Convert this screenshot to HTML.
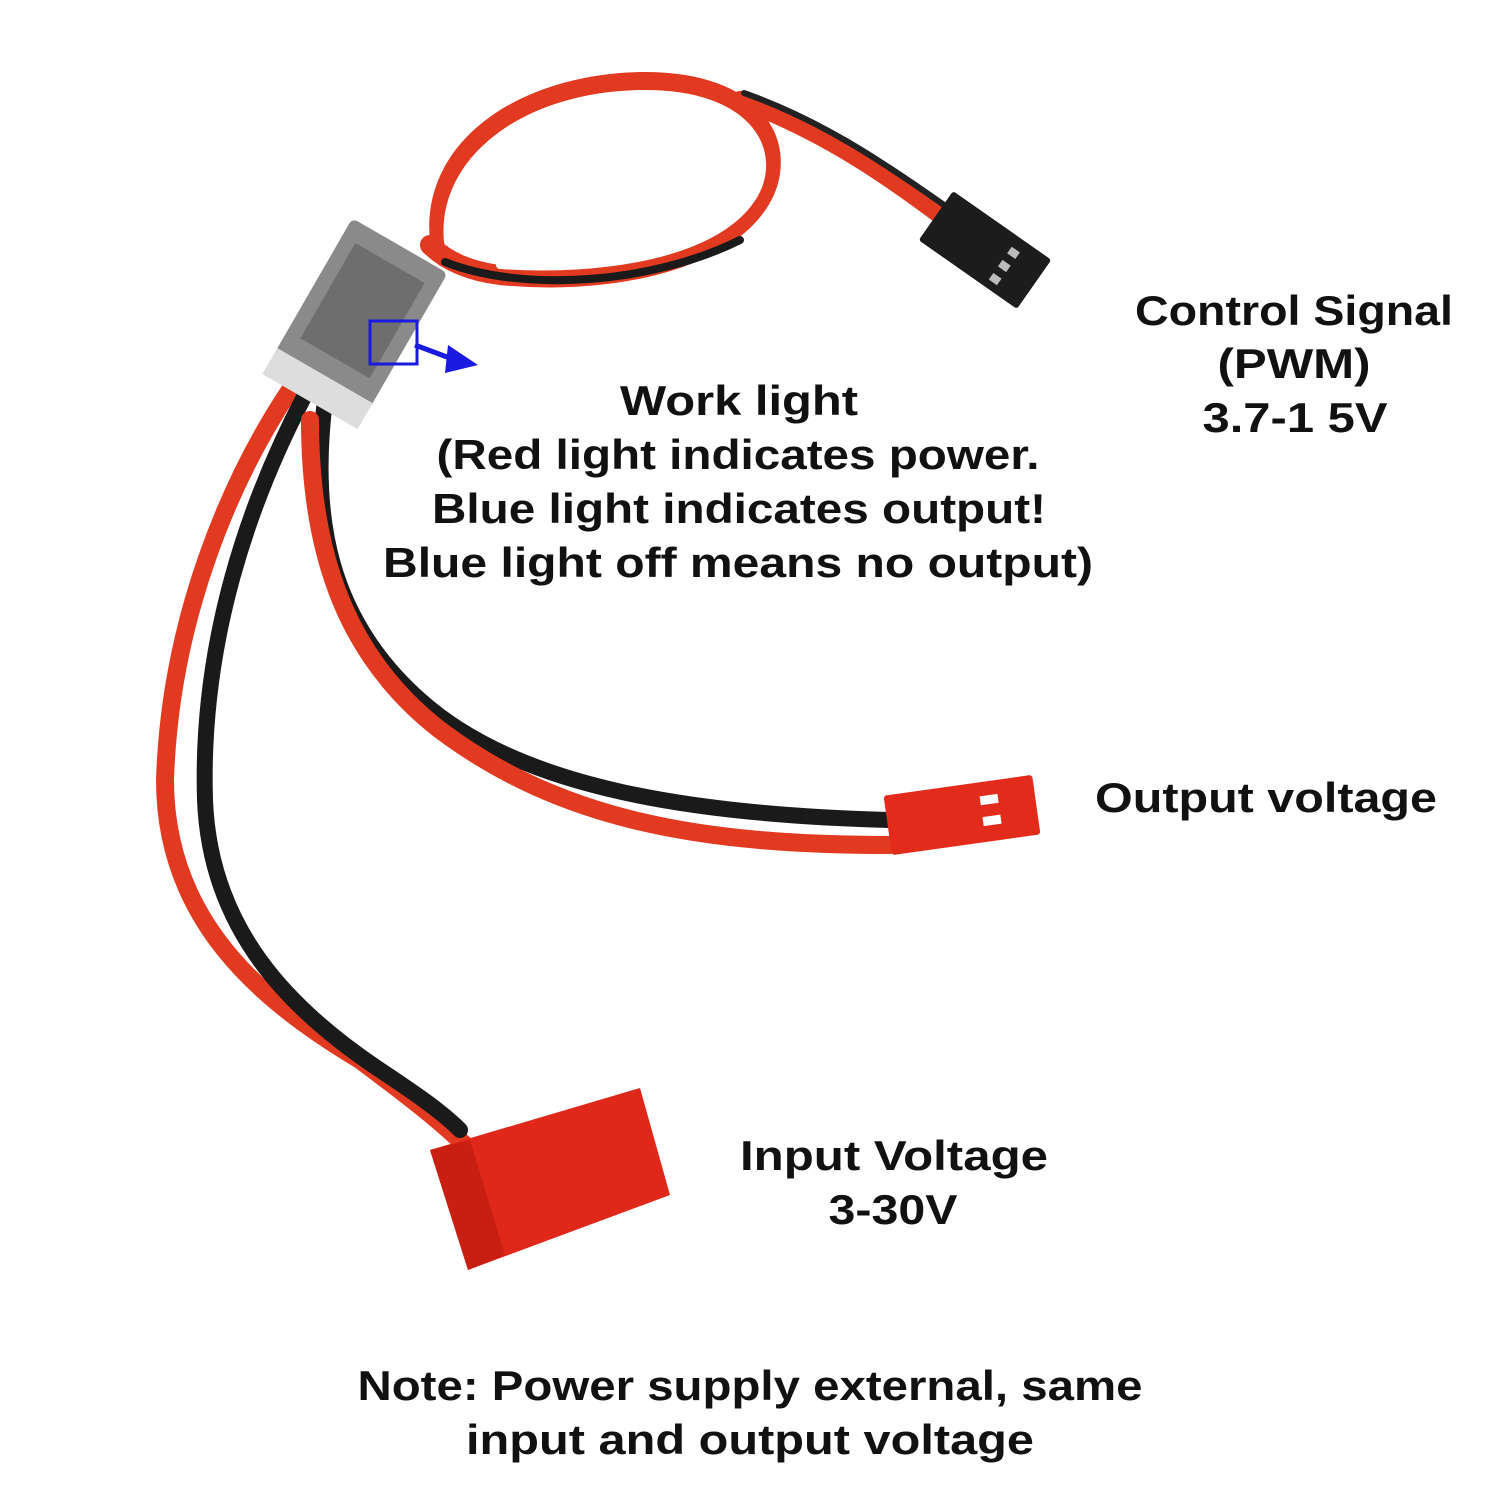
<html><head><style>
body{margin:0;background:#fff;}
svg{display:block}
text{font-family:"Liberation Sans",sans-serif;font-weight:bold;font-size:42px;fill:#111;}
</style></head><body>
<svg width="1500" height="1500" viewBox="0 0 1500 1500">
<g fill="none" stroke-linecap="round">
<path d="M290,390 C230,480 170,620 165,780 C165,920 260,1000 360,1060 C400,1090 440,1120 470,1150" stroke="#e23a20" stroke-width="18"/>
<path d="M305,395 C250,500 200,640 205,800 C210,930 290,1010 380,1070 C410,1090 440,1110 460,1130" stroke="#1a1a1a" stroke-width="16"/>
<path d="M325,400 C310,520 330,620 420,700 C520,790 700,815 890,820" stroke="#1a1a1a" stroke-width="16"/>
<path d="M310,420 C310,560 350,660 440,730 C560,820 700,845 890,845" stroke="#e23a20" stroke-width="18"/>
<path d="M440,240 C430,150 520,85 640,82 C760,80 790,150 760,200 C720,265 600,285 500,275 C460,270 440,255 430,245" stroke="#e23a20" stroke-width="20"/>
<path d="M448,242 C440,160 525,96 640,94 C752,92 780,155 752,198 C715,255 600,272 500,265" stroke="#fff" stroke-width="8"/>
<path d="M445,262 C520,292 650,285 740,240" stroke="#1a1a1a" stroke-width="8"/>
<path d="M740,100 C820,130 880,170 940,215" stroke="#e23a20" stroke-width="18"/>
<path d="M744,93 C820,120 880,160 944,205" stroke="#222" stroke-width="6"/>
</g>
<g transform="translate(985,250) rotate(35)">
<rect x="-60" y="-30" width="120" height="60" fill="#1c1c1c" rx="3"/>
<rect x="20" y="-18" width="10" height="8" fill="#bbb"/><rect x="20" y="-2" width="10" height="8" fill="#bbb"/><rect x="20" y="14" width="10" height="8" fill="#bbb"/>
</g>
<g transform="translate(360,315) rotate(30)">
<rect x="-55" y="-80" width="110" height="160" fill="#8a8a8a" rx="6"/>
<rect x="-40" y="-60" width="80" height="110" fill="#6e6e6e"/>
<rect x="-55" y="70" width="110" height="30" fill="#ddd"/>
</g>
<rect x="370" y="321" width="47" height="43" fill="none" stroke="#1a1ae0" stroke-width="3"/>
<path d="M415,345 L455,360" stroke="#1a1ae0" stroke-width="5"/>
<polygon points="448,345 478,365 445,373" fill="#1a1ae0"/>
<g transform="translate(962,815) rotate(-8)">
<rect x="-75" y="-30" width="150" height="60" fill="#e32b1c" rx="3"/>
<rect x="20" y="-16" width="18" height="9" fill="#fff"/><rect x="20" y="5" width="18" height="9" fill="#fff"/>
</g>
<polygon points="430,1150 640,1088 670,1195 468,1270" fill="#e0281a"/>
<polygon points="430,1150 470,1140 505,1255 468,1270" fill="#c81f12"/>
<g text-anchor="middle" lengthAdjust="spacingAndGlyphs">
<text x="1294" y="325" textLength="318" lengthAdjust="spacingAndGlyphs">Control Signal</text>
<text x="1294" y="378" textLength="153" lengthAdjust="spacingAndGlyphs">(PWM)</text>
<text x="1295" y="432" textLength="185" lengthAdjust="spacingAndGlyphs">3.7-1 5V</text>
<text x="739" y="415" textLength="238" lengthAdjust="spacingAndGlyphs">Work light</text>
<text x="738" y="469" textLength="603" lengthAdjust="spacingAndGlyphs">(Red light indicates power.</text>
<text x="739" y="523" textLength="614" lengthAdjust="spacingAndGlyphs">Blue light indicates output!</text>
<text x="738" y="577" textLength="710" lengthAdjust="spacingAndGlyphs">Blue light off means no output)</text>
<text x="1266" y="812" textLength="342" lengthAdjust="spacingAndGlyphs">Output voltage</text>
<text x="894" y="1170" textLength="308" lengthAdjust="spacingAndGlyphs">Input Voltage</text>
<text x="893" y="1224" textLength="129" lengthAdjust="spacingAndGlyphs">3-30V</text>
<text x="750" y="1400" textLength="785" lengthAdjust="spacingAndGlyphs">Note: Power supply external, same</text>
<text x="750" y="1454" textLength="568" lengthAdjust="spacingAndGlyphs">input and output voltage</text>
</g>
</svg>
</body></html>
